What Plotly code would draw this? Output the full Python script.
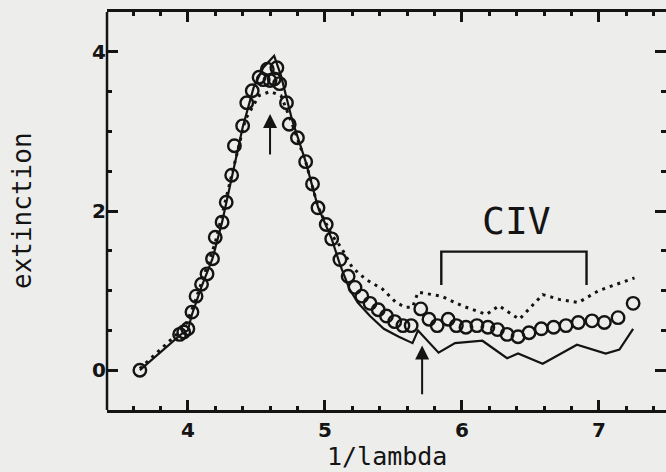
import plotly.graph_objects as go

# open circles (measured)
circ_x = [3.65, 3.94, 3.97, 4.00, 4.03, 4.06, 4.10, 4.14, 4.18, 4.20, 4.25, 4.28, 4.32, 4.34,
          4.40, 4.43, 4.47, 4.52, 4.55, 4.58, 4.60, 4.63, 4.65, 4.67, 4.72, 4.74, 4.80, 4.86,
          4.91, 4.95, 5.01, 5.05, 5.11, 5.17, 5.22, 5.27, 5.33, 5.39, 5.45, 5.51, 5.57, 5.63,
          5.70, 5.76, 5.82, 5.90, 5.96, 6.03, 6.11, 6.19, 6.26, 6.33, 6.41, 6.49, 6.58, 6.67,
          6.76, 6.85, 6.95, 7.04, 7.14, 7.25]
circ_y = [0.00, 0.45, 0.48, 0.52, 0.73, 0.93, 1.08, 1.21, 1.40, 1.67, 1.86, 2.11, 2.45, 2.82,
          3.07, 3.36, 3.51, 3.68, 3.65, 3.78, 3.64, 3.66, 3.80, 3.60, 3.36, 3.09, 2.92, 2.62,
          2.34, 2.04, 1.83, 1.65, 1.39, 1.18, 1.04, 0.93, 0.84, 0.76, 0.68, 0.61, 0.56, 0.56,
          0.77, 0.64, 0.56, 0.64, 0.56, 0.54, 0.56, 0.54, 0.51, 0.45, 0.42, 0.47, 0.52, 0.54,
          0.56, 0.60, 0.62, 0.60, 0.66, 0.84]

# solid curve
solid_x = [3.65, 3.95, 4.00, 4.03, 4.10, 4.18, 4.25, 4.32, 4.40, 4.48, 4.55, 4.63, 4.68, 4.76,
           4.86, 4.95, 5.05, 5.11, 5.18, 5.24, 5.33, 5.43, 5.54, 5.64, 5.68, 5.83, 5.95, 6.15,
           6.33, 6.41, 6.59, 6.84, 7.05, 7.15, 7.25]
solid_y = [0.00, 0.45, 0.50, 0.70, 1.05, 1.40, 1.86, 2.40, 3.05, 3.55, 3.80, 3.95, 3.70, 3.15,
           2.62, 2.05, 1.65, 1.33, 1.02, 0.85, 0.68, 0.52, 0.42, 0.34, 0.50, 0.22, 0.34, 0.37,
           0.15, 0.21, 0.08, 0.32, 0.21, 0.26, 0.52]

# dotted curve
dot_x = [3.65, 3.98, 4.05, 4.20, 4.32, 4.42, 4.52, 4.60, 4.68, 4.76, 4.86, 4.95, 5.05, 5.12,
         5.20, 5.30, 5.42, 5.52, 5.59, 5.64, 5.68, 5.85, 6.00, 6.18, 6.27, 6.42, 6.59, 6.71,
         6.85, 7.00, 7.26]
dot_y = [0.02, 0.55, 0.85, 1.60, 2.45, 3.15, 3.45, 3.50, 3.45, 3.10, 2.62, 2.05, 1.70, 1.54,
         1.29, 1.14, 1.02, 0.85, 0.79, 0.79, 0.98, 0.93, 0.81, 0.70, 0.81, 0.64, 0.95, 0.89,
         0.85, 1.00, 1.16]

# annotation marks
bracket_x = [5.85, 5.85, 6.91, 6.91]
bracket_y = [1.07, 1.49, 1.49, 1.07]
label_civ = "CIV"
label_civ_pos = (6.40, 1.87)
arrows = [(4.60, 3.22, 2.69), (5.71, 0.31, -0.32)]  # x, tip y, tail y

ink = "#141414"
bg = "#ededeb"

fig = go.Figure()
fig.add_trace(go.Scatter(x=dot_x, y=dot_y, mode="lines",
                         line=dict(color=ink, width=3, dash="3px,5px")))
fig.add_trace(go.Scatter(x=solid_x, y=solid_y, mode="lines",
                         line=dict(color=ink, width=2.2)))
fig.add_trace(go.Scatter(x=circ_x, y=circ_y, mode="markers",
                         marker=dict(symbol="circle-open", size=12.5, color=ink,
                                     line=dict(width=2.4, color=ink))))
fig.add_trace(go.Scatter(x=bracket_x, y=bracket_y, mode="lines",
                         line=dict(color=ink, width=2.4)))

for ax_, tip, tail in arrows:
    fig.add_annotation(x=ax_, y=tip, ax=ax_, ay=tail, xref="x", yref="y",
                       axref="x", ayref="y", showarrow=True, arrowhead=2,
                       arrowsize=1.4, arrowwidth=2, arrowcolor=ink, text="")

fig.add_annotation(x=label_civ_pos[0], y=label_civ_pos[1], text=label_civ,
                   showarrow=False, font=dict(family="DejaVu Sans Mono", size=38, color=ink))

fig.add_annotation(xref="paper", yref="paper", x=0, y=0.5, xshift=-85,
                   xanchor="center", yanchor="middle",
                   text="extinction", textangle=-90, showarrow=False,
                   font=dict(family="DejaVu Sans Mono", size=26, color=ink))
fig.add_annotation(xref="paper", yref="paper", x=0.5, y=0, yshift=-46,
                   xanchor="center", yanchor="middle",
                   text="1/lambda", showarrow=False,
                   font=dict(family="DejaVu Sans Mono", size=25, color=ink))

fig.add_shape(type="line", xref="paper", yref="paper", x0=0, x1=0, y0=0, y1=1,
              line=dict(color=ink, width=2.5))

tickfont = dict(family="DejaVu Sans", size=20, color=ink, weight="bold")
fig.update_xaxes(range=[3.41, 7.49], showgrid=False, zeroline=False,
                 showline=True, linewidth=2.5, linecolor=ink, mirror="allticks",
                 ticks="inside", ticklen=10, tickwidth=3, tickcolor=ink,
                 tick0=0, dtick=1, tickfont=tickfont,
                 minor=dict(dtick=0.2, tick0=0, ticks="inside", ticklen=4,
                            tickwidth=2.5, tickcolor=ink))
fig.update_yaxes(range=[-0.5, 4.5], showgrid=False, zeroline=False,
                 showline=False, mirror="allticks",
                 ticks="inside", ticklen=11, tickwidth=3, tickcolor=ink,
                 tick0=0, dtick=2, tickfont=tickfont,
                 minor=dict(dtick=0.5, tick0=0, ticks="inside", ticklen=5,
                            tickwidth=2.5, tickcolor=ink))

fig.update_layout(width=666, height=472, showlegend=False,
                  margin=dict(l=107, r=0, t=12, b=62),
                  paper_bgcolor=bg, plot_bgcolor=bg)

fig.write_html("out.html")
